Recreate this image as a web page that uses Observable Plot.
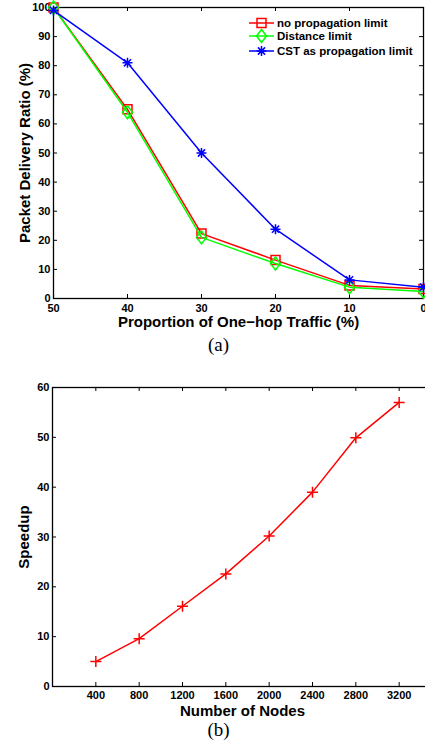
<!DOCTYPE html>
<html><head><meta charset="utf-8">
<script src="https://cdn.jsdelivr.net/npm/d3@7"></script>
<script src="https://cdn.jsdelivr.net/npm/@observablehq/plot@0.6"></script>
<style>
html,body{margin:0;padding:0;background:#fff;}
body{width:425px;height:740px;position:relative;overflow:hidden;font-family:"Liberation Sans",Arial,sans-serif;}
.abs{position:absolute;}
.cap{font-family:"Liberation Serif","Times New Roman",serif;font-size:19px;line-height:19px;width:425px;text-align:center;color:#000;}
.leg{font-weight:bold;font-size:11.5px;color:#000;white-space:nowrap;}
</style></head><body>
<div id="chartA" class="abs" style="left:0;top:0;width:425px;"></div>
<div id="legendA" class="abs" style="left:0;top:0;"></div>
<div class="abs cap" style="left:6px;top:335px;">(a)</div>
<div id="chartB" class="abs" style="left:0;top:355px;width:425px;overflow:hidden;"></div>
<div class="abs cap" style="left:6px;top:720px;">(b)</div>
<script>
// ---------- data (a) ----------
const xA = [50, 40, 30, 20, 10, 0];
const noLimit = [100, 65, 22.3, 13.2, 4.5, 3.3];
const distLimit = [100, 64, 21, 12, 3.9, 2.4];
const cstLimit = [99, 81, 50, 23.8, 6.4, 3.9];
const seriesNames = ["no propagation limit", "Distance limit", "CST as propagation limit"];
const seriesColors = ["#ff0000", "#00ff00", "#0000ff"];
const yTicksA = [0, 10, 20, 30, 40, 50, 60, 70, 80, 90, 100];
const xLabelA = "Proportion of One\u2212hop Traffic (%)";
const yLabelA = "Packet Delivery Ratio (%)";

// ---------- data (b) ----------
const nodes = [400, 800, 1200, 1600, 2000, 2400, 2800, 3200];
const speedup = [5.0, 9.6, 16.1, 22.6, 30.2, 39.0, 49.9, 57.0];
const yTicksB = [0, 10, 20, 30, 40, 50, 60];
const xLabelB = "Number of Nodes";
const yLabelB = "Speedup";

// ---------- symbols ----------
const rad = size => Math.sqrt(size / Math.PI);
const sqSym = {draw(c, size){const s = rad(size); c.moveTo(-s,-s); c.lineTo(s,-s); c.lineTo(s,s); c.lineTo(-s,s); c.closePath();}};
const diaSym = {draw(c, size){const s = rad(size), h = s*1.3; c.moveTo(0,-h); c.lineTo(s,0); c.lineTo(0,h); c.lineTo(-s,0); c.closePath();}};
const starSym = {draw(c, size){const s = rad(size), d = s*0.72;
  c.moveTo(-s,0); c.lineTo(s,0); c.moveTo(0,-s); c.lineTo(0,s);
  c.moveTo(-d,-d); c.lineTo(d,d); c.moveTo(-d,d); c.lineTo(d,-d);}};
const plusSym = {draw(c, size){const s = rad(size); c.moveTo(-s,0); c.lineTo(s,0); c.moveTo(0,-s); c.lineTo(0,s);}};
const symsA = [sqSym, diaSym, starSym];
const radA = [4.5, 5, 5];

const font = "'Liberation Sans', Arial, Helvetica, sans-serif";
const fmt = d => String(d);

// ---------- chart (a) ----------
const valsA = [noLimit, distLimit, cstLimit];
const rowsA = [];
seriesNames.forEach((name, i) => xA.forEach((x, j) => rowsA.push({series: name, x, y: valsA[i][j]})));

const WA = 425, HA = 332, mLA = 53, mRA = 2, mTA = 7, mBA = 34;
const innerHA = HA - mTA - mBA, innerWA = WA - mLA - mRA;
const tl = 4;

const marksA = [
  Plot.frame({stroke: "black", strokeWidth: 1.3}),
  Plot.tickX(xA, {x: d => d, insetTop: innerHA - tl, stroke: "black"}),
  Plot.tickX(xA, {x: d => d, insetBottom: innerHA - tl, stroke: "black"}),
  Plot.tickY(yTicksA, {y: d => d, insetRight: innerWA - tl, stroke: "black"}),
  Plot.tickY(yTicksA, {y: d => d, insetLeft: innerWA - tl, stroke: "black"}),
  Plot.axisX(xA, {tickSize: 0, tickPadding: 6, fontSize: 11, fontWeight: "bold", label: null, tickFormat: fmt}),
  Plot.axisY(yTicksA, {tickSize: 0, tickPadding: 3, fontSize: 11, fontWeight: "bold", label: null, tickFormat: fmt}),
];
seriesNames.forEach((name, i) => {
  const d = rowsA.filter(r => r.series === name);
  marksA.push(Plot.line(d, {x: "x", y: "y", stroke: seriesColors[i], strokeWidth: 1.5}));
  marksA.push(Plot.dot(d, {x: "x", y: "y", stroke: seriesColors[i], fill: "none", strokeWidth: 1.5, symbol: symsA[i], r: radA[i]}));
});
marksA.push(Plot.text([xLabelA], {text: d => d, frameAnchor: "bottom", textAnchor: "middle", lineAnchor: "middle", dy: 24, fontSize: 15, fontWeight: "bold"}));
marksA.push(Plot.text([yLabelA], {text: d => d, frameAnchor: "left", textAnchor: "middle", lineAnchor: "middle", rotate: -90, dx: -28, fontSize: 15, fontWeight: "bold"}));

const plotA = Plot.plot({
  width: WA, height: HA,
  marginLeft: mLA, marginRight: mRA, marginTop: mTA, marginBottom: mBA,
  x: {domain: [50, 0]},
  y: {domain: [0, 100]},
  style: {fontFamily: font, color: "black", background: "white", overflow: "visible"},
  marks: marksA
});
document.getElementById("chartA").appendChild(plotA);

// legend (a)
const legRowsY = [22.7, 36, 51];
const leg = d3.select("#legendA");
seriesNames.forEach((name, i) => {
  const row = leg.append("div").attr("class", "abs leg")
    .style("left", "247px").style("top", (legRowsY[i] - 8) + "px")
    .style("height", "16px").style("display", "flex").style("align-items", "center");
  const s = row.append("svg").attr("width", 30).attr("height", 16).style("display", "block");
  s.append("line").attr("x1", 2).attr("x2", 27).attr("y1", 8).attr("y2", 8)
    .attr("stroke", seriesColors[i]).attr("stroke-width", 1.5);
  s.append("path").attr("transform", "translate(14.5,8)")
    .attr("d", d3.symbol(symsA[i], Math.PI * radA[i] * radA[i])())
    .attr("fill", "none").attr("stroke", seriesColors[i]).attr("stroke-width", 1.5);
  row.append("span").text(name);
});

// ---------- chart (b) ----------
const rowsB = nodes.map((n, i) => ({n, s: speedup[i]}));
const WB = 443, HB = 363, mLB = 52, mRB = 1, mTB = 32, mBB = 32;
const innerHB = HB - mTB - mBB, innerWB = WB - mLB - mRB;

const plotB = Plot.plot({
  width: WB, height: HB,
  marginLeft: mLB, marginRight: mRB, marginTop: mTB, marginBottom: mBB,
  x: {domain: [0, 3600]},
  y: {domain: [0, 60]},
  style: {fontFamily: font, color: "black", background: "white", maxWidth: "none"},
  marks: [
    Plot.frame({stroke: "black", strokeWidth: 1.3}),
    Plot.tickX(nodes, {x: d => d, insetTop: innerHB - tl, stroke: "black"}),
    Plot.tickX(nodes, {x: d => d, insetBottom: innerHB - tl, stroke: "black"}),
    Plot.tickY(yTicksB, {y: d => d, insetRight: innerWB - tl, stroke: "black"}),
    Plot.axisX(nodes, {tickSize: 0, tickPadding: 5, fontSize: 11, fontWeight: "bold", label: null, tickFormat: fmt}),
    Plot.axisY(yTicksB, {tickSize: 0, tickPadding: 3, fontSize: 11, fontWeight: "bold", label: null, tickFormat: fmt}),
    Plot.line(rowsB, {x: "n", y: "s", stroke: "#ff0000", strokeWidth: 1.5}),
    Plot.dot(rowsB, {x: "n", y: "s", stroke: "#ff0000", fill: "none", strokeWidth: 1.5, symbol: plusSym, r: 5.5}),
    Plot.text([xLabelB], {text: d => d, frameAnchor: "bottom", textAnchor: "middle", lineAnchor: "middle", dy: 24.5, dx: -5, fontSize: 15, fontWeight: "bold"}),
    Plot.text([yLabelB], {text: d => d, frameAnchor: "left", textAnchor: "middle", lineAnchor: "middle", rotate: -90, dx: -28, fontSize: 15, fontWeight: "bold"})
  ]
});
document.getElementById("chartB").appendChild(plotB);
</script>
</body></html>
